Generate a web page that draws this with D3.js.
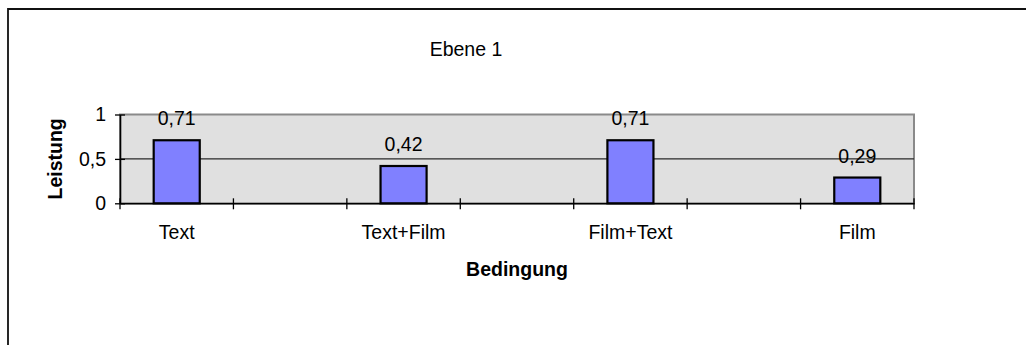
<!DOCTYPE html>
<html>
<head>
<meta charset="utf-8">
<script src="https://cdn.jsdelivr.net/npm/d3@7/dist/d3.min.js"></script>
<style>
  html, body { margin: 0; padding: 0; background: #fff; }
  svg { display: block; font-family: "Liberation Sans", Arial, sans-serif; }
</style>
</head>
<body>
<svg id="chart" width="1026" height="345"></svg>
<script>
// Category slots (empty slots leave gaps between conditions)
const categories = ["Text", "", "Text+Film", "", "Film+Text", "", "Film"];
const values = [0.71, null, 0.42, null, 0.71, null, 0.29];
const yTicks = [0, 0.5, 1];
const yTickLabels = ["0", "0,5", "1"];
const title = "Ebene 1";
const xTitle = "Bedingung";
const yTitle = "Leistung";

const fmt = v => String(v).replace(".", ",");

const svg = d3.select("#chart");
const W = 1026, H = 345;
const plot = { left: 120, right: 914, top: 114.5, bottom: 203.3 };

// Outer frame (top and left edges visible)
svg.append("path")
  .attr("d", `M8,${H} L8,9 L${W},9`)
  .attr("fill", "none").attr("stroke", "#111").attr("stroke-width", 1.8);

const x = d3.scaleBand()
  .domain(d3.range(categories.length))
  .range([plot.left, plot.right])
  .paddingInner(0).paddingOuter(0);

const y = d3.scaleLinear().domain([0, 1]).range([plot.bottom, plot.top]);

// Plot background and border
svg.append("rect")
  .attr("x", plot.left).attr("y", y(1))
  .attr("width", plot.right - plot.left).attr("height", y(0) - y(1))
  .attr("fill", "#e0e0e0").attr("stroke", "#8a8a8a").attr("stroke-width", 2);

// Horizontal gridlines
svg.append("g").selectAll("line")
  .data(yTicks.filter(t => t > 0 && t < 1))
  .join("line")
  .attr("x1", plot.left).attr("x2", plot.right)
  .attr("y1", d => y(d)).attr("y2", d => y(d))
  .attr("stroke", "#2a2a2a").attr("stroke-width", 1.2);

// Bars
const barW = x.step() * 0.406;
svg.append("g").selectAll("rect")
  .data(values.map((v, i) => ({ v, i })).filter(d => d.v != null))
  .join("rect")
  .attr("x", d => x(d.i) + (x.step() - barW) / 2)
  .attr("y", d => y(d.v))
  .attr("width", barW)
  .attr("height", d => y(0) - y(d.v))
  .attr("fill", "#8080ff")
  .attr("stroke", "#000").attr("stroke-width", 2.2);

// Value labels
svg.append("g").selectAll("text")
  .data(values.map((v, i) => ({ v, i })).filter(d => d.v != null))
  .join("text")
  .attr("x", d => x(d.i) + x.step() / 2)
  .attr("y", d => y(d.v) - 15)
  .attr("text-anchor", "middle")
  .attr("font-size", "19.5px")
  .attr("fill", "#000")
  .text(d => fmt(d.v));

// Y axis
const yAxis = d3.axisLeft(y)
  .tickValues(yTicks)
  .tickFormat((d, i) => yTickLabels[i])
  .tickSize(0).tickPadding(14);
const gy = svg.append("g").attr("transform", `translate(${plot.left},0)`).call(yAxis);
gy.select(".domain").attr("stroke", "#000").attr("stroke-width", 1.6);
gy.selectAll("text").attr("font-size", "19.5px").attr("fill", "#000")
  .attr("font-family", "'Liberation Sans', Arial, sans-serif");
gy.selectAll(".tick").append("line")
  .attr("x1", -5).attr("x2", 5).attr("stroke", "#000").attr("stroke-width", 1.3);

// X axis: labels at band centres, tick marks at band edges
const xAxis = d3.axisBottom(x)
  .tickFormat(i => categories[i])
  .tickSize(0).tickPadding(22);
const gx = svg.append("g").attr("transform", `translate(0,${plot.bottom})`).call(xAxis);
gx.select(".domain").attr("stroke", "#000").attr("stroke-width", 1.6);
gx.selectAll("text").attr("font-size", "19.5px").attr("fill", "#000")
  .attr("font-family", "'Liberation Sans', Arial, sans-serif");

const edges = x.domain().map(i => x(i)).concat([x.range()[1]]);
svg.append("g").selectAll("line")
  .data(edges)
  .join("line")
  .attr("x1", d => d).attr("x2", d => d)
  .attr("y1", plot.bottom - 5).attr("y2", plot.bottom + 6)
  .attr("stroke", "#000").attr("stroke-width", 1.3);

// Titles
svg.append("text")
  .attr("x", 466).attr("y", 56)
  .attr("text-anchor", "middle").attr("font-size", "19.5px")
  .text(title);

svg.append("text")
  .attr("x", (plot.left + plot.right) / 2).attr("y", 276)
  .attr("text-anchor", "middle").attr("font-size", "19.5px").attr("font-weight", "bold")
  .text(xTitle);

svg.append("text")
  .attr("transform", `translate(62,${(plot.top + plot.bottom) / 2}) rotate(-90)`)
  .attr("text-anchor", "middle").attr("font-size", "19.5px").attr("font-weight", "bold")
  .text(yTitle);
</script>
</body>
</html>
